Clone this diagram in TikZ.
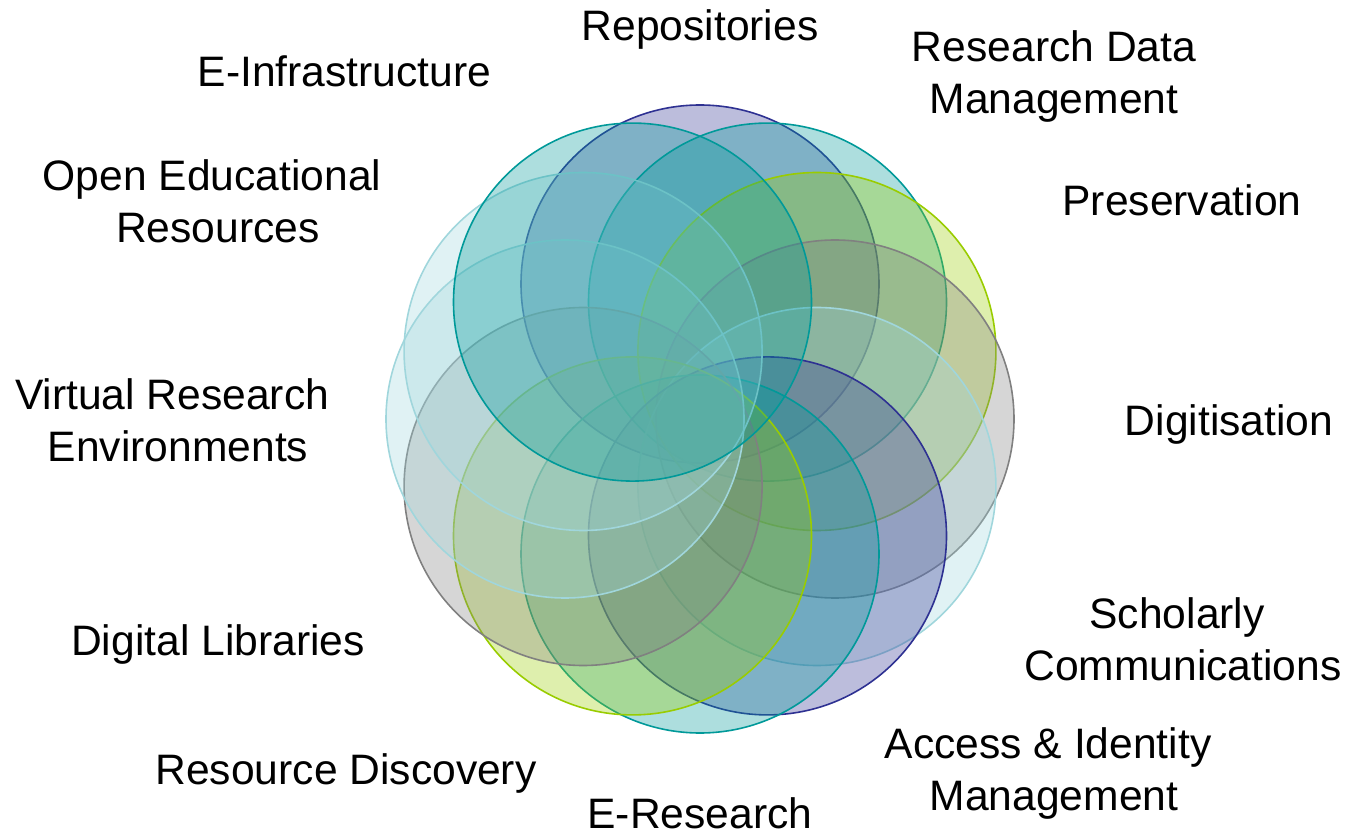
\documentclass[tikz,border=0pt]{standalone}
\usepackage{fontspec}
\setmainfont{Liberation Sans}
\definecolor{navyc}{RGB}{46,49,146}
\definecolor{tealc}{RGB}{0,153,153}
\definecolor{ygc}{RGB}{153,204,0}
\definecolor{grayc}{RGB}{128,128,128}
\definecolor{ltc}{RGB}{160,214,220}
\begin{document}
\begin{tikzpicture}[x=0.5pt,y=-0.5pt,
  ring/.style={circle,inner sep=0pt,minimum size=179pt,line width=0.8pt,
    draw=#1,fill=#1,fill opacity=0.32,draw opacity=1},
  lbl/.style={font=\fontsize{21.3}{26}\selectfont,align=center,inner sep=0pt,anchor=base}]
\useasboundingbox (0,0) rectangle (1346,834);
\def\cx{700}\def\cy{419}\def\d{135}
\foreach \n/\a/\c in {rep/90/navyc,rdm/60/tealc,pre/30/ygc,dig/0/grayc,sch/-30/ltc,aim/-60/navyc,ere/-90/tealc,rdi/-120/ygc,dlb/-150/grayc,vre/180/ltc,oer/150/ltc,einf/120/tealc}{
  \node[ring=\c] (c\n) at ({\cx+\d*cos(\a)},{\cy-\d*sin(\a)}) {};
}
\node[lbl] (trep) at (700,41) {Repositories};
\node[lbl] (trdm) at (1054,114) {Research Data\\Management};
\node[lbl] (teinf) at (344.5,87) {E-Infrastructure};
\node[lbl] (toer) at (218,243) {Open Educational\hspace*{.278em}\\Resources};
\node[lbl] (tvre) at (178,462) {Virtual Research\hspace*{.278em}\\Environments};
\node[lbl] (tpre) at (1182,216) {Preservation};
\node[lbl] (tdig) at (1229,436) {Digitisation};
\node[lbl] (tsch) at (1183,680) {Scholarly\hspace*{.278em}\\Communications};
\node[lbl] (tdlb) at (218,655) {Digital Libraries};
\node[lbl] (taim) at (1054,810) {Access \& Identity\hspace*{.278em}\\Management};
\node[lbl] (trdi) at (346,784) {Resource Discovery};
\node[lbl] (tere) at (700,828) {E-Research};
\end{tikzpicture}
\end{document}
